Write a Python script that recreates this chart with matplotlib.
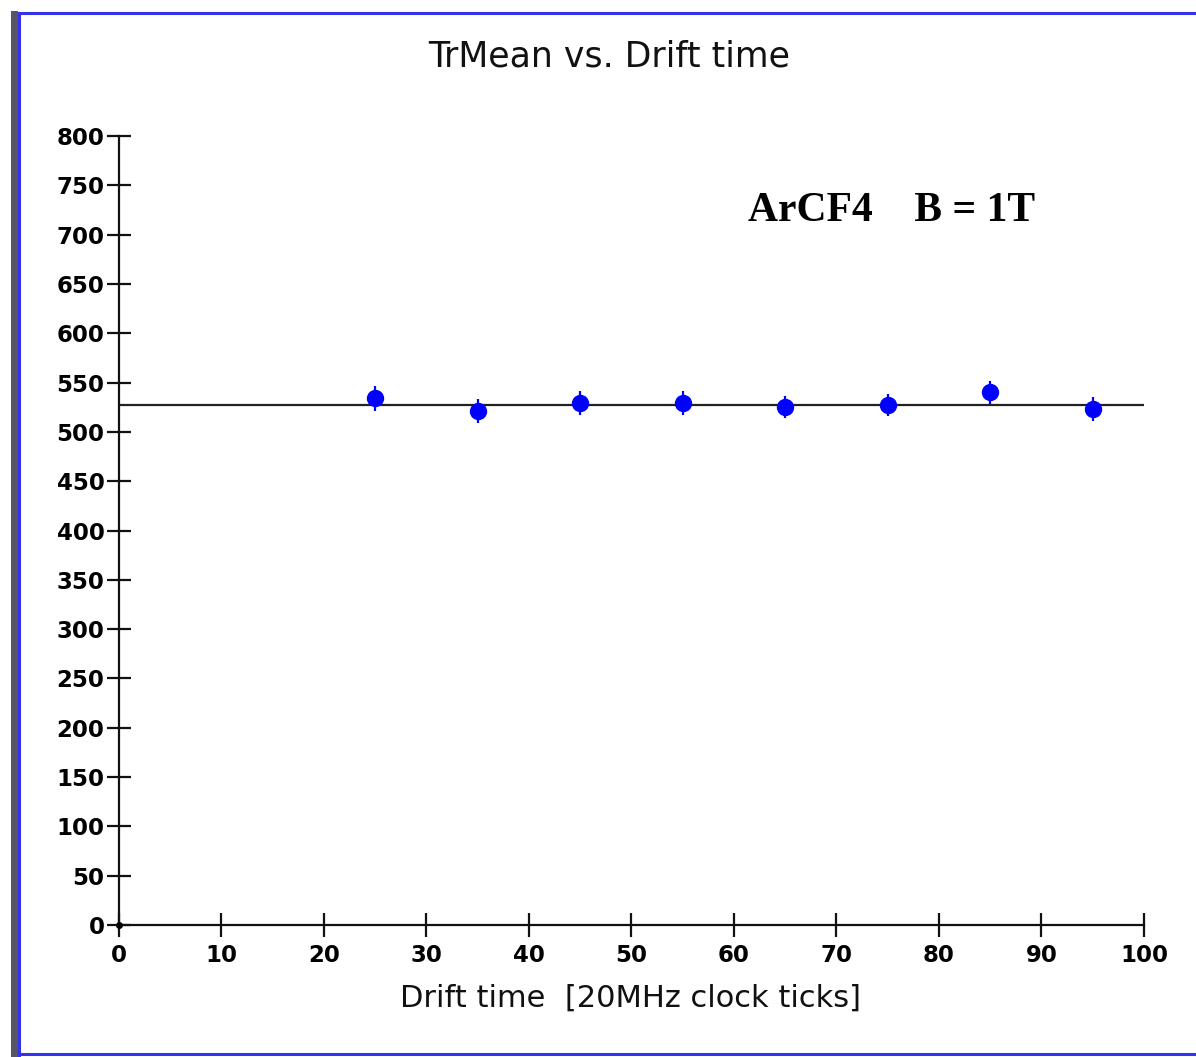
import numpy as np
import matplotlib
matplotlib.use("Agg")
import matplotlib.pyplot as plt
from matplotlib.lines import Line2D
from matplotlib.patches import Rectangle

# values
drift_time = [25, 35, 45, 55, 65, 75, 85, 95]
tr_mean = [534, 521, 529, 529, 525, 527, 540, 523]
tr_err = [13, 12, 12, 12, 11, 11, 12, 12]
fit_level = 527
fit_range = [0, 100]

x_ticks = list(range(0, 101, 10))
y_ticks = list(range(0, 801, 50))

fig = plt.figure(figsize=(11.96, 10.57), dpi=100)
ax = fig.add_axes([0.0995, 0.1249, 0.857, 0.7464])

# horizontal fit line
ax.plot(fit_range, [fit_level, fit_level], color="#222222", lw=1.6, zorder=2)

ax.errorbar(drift_time, tr_mean, yerr=tr_err, fmt="o", color="#0000ff",
            ms=11.5, elinewidth=1.6, capsize=0, zorder=3)

ax.set_xlim(0, 100)
ax.set_ylim(0, 800)
ax.set_xticks(x_ticks)
ax.set_yticks(y_ticks)
for s in ["top", "right"]:
    ax.spines[s].set_visible(False)
for s in ["left", "bottom"]:
    ax.spines[s].set_linewidth(1.6)
    ax.spines[s].set_color("#111111")
ax.tick_params(direction="inout", length=17, width=1.6, color="#111111",
               labelsize=16.5, pad=2)
ax.tick_params(axis="x", pad=5)
for lab in ax.get_xticklabels() + ax.get_yticklabels():
    lab.set_fontweight("bold")
ax.plot([0], [0], "o", color="black", ms=4, clip_on=False, zorder=4)

fig.text(0.509, 0.947, "TrMean vs. Drift time", ha="center", va="center",
         fontsize=25, color="#111111")
fig.text(0.527, 0.056, "Drift time  [20MHz clock ticks]", ha="center",
         va="center", fontsize=22, color="#111111")
ax.text(0.614, 0.905, "ArCF4    B = 1T", transform=ax.transAxes,
        family="Liberation Serif", fontweight="bold", fontsize=30,
        ha="left", va="center")

# window frame
fig.add_artist(Rectangle((0.0092, 0.0), 0.0055, 0.99, transform=fig.transFigure,
                         facecolor="#555566", edgecolor="none"))
fig.add_artist(Line2D([0.0155, 1.0], [0.9875, 0.9875], transform=fig.transFigure,
                      color="#3333ee", lw=2.2))
fig.add_artist(Line2D([0.0155, 0.0155], [0.0015, 0.9875], transform=fig.transFigure,
                      color="#3333ee", lw=2.2))
fig.add_artist(Line2D([0.0155, 1.0], [0.0025, 0.0025], transform=fig.transFigure,
                      color="#3333ee", lw=2.2))

fig.savefig("out.png", dpi=100)
